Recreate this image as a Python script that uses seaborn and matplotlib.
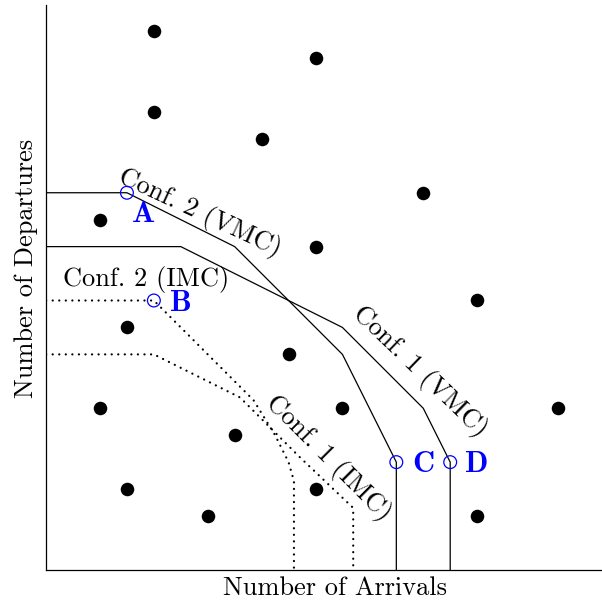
import matplotlib
matplotlib.use("Agg")
import matplotlib.pyplot as plt
import seaborn as sns
import pandas as pd

# ---- data ----
dots_x = [4, 10, 4, 8, 14, 2, 10, 16, 3, 9, 2, 11, 19, 7, 3, 10, 6, 16]
dots_y = [20, 19, 17, 16, 14, 13, 12, 10, 9, 8, 6, 6, 6, 5, 3, 3, 2, 2]

conf2_vmc_x = [0, 3, 7, 11, 13, 13]
conf2_vmc_y = [14, 14, 12, 8, 4, 0]
conf1_vmc_x = [0, 5, 11, 14, 15, 15]
conf1_vmc_y = [12, 12, 9, 6, 4, 0]
conf2_imc_x = [0, 4, 7.7, 8.5, 9.0, 9.2, 9.2]
conf2_imc_y = [10, 10, 6.3, 5.0, 4.0, 3.3, 0]
conf1_imc_x = [0, 4, 7.2, 9.4, 11.4, 11.4]
conf1_imc_y = [8, 8, 6.4, 4.2, 2.3, 0]

pt_labels = ["A", "B", "C", "D"]
pt_x = [3, 4, 13, 15]
pt_y = [14, 10, 4, 4]

sns.set_theme(style="white")
plt.rcParams["font.family"] = ["cmr10", "DejaVu Serif"]
plt.rcParams["axes.unicode_minus"] = False
plt.rcParams["text.color"] = "black"

fig = plt.figure(figsize=(6.02, 6.05), dpi=100)
ax = fig.add_axes([46.1 / 602, (605 - 569.9) / 605, (602 - 46.1) / 602, (569.9 - 5) / 605])

def path(x, y, **kw):
    df = pd.DataFrame({"x": x, "y": y})
    sns.lineplot(data=df, x="x", y="y", sort=False, estimator=None, ax=ax, **kw)

for xs, ys in [(conf2_vmc_x, conf2_vmc_y), (conf1_vmc_x, conf1_vmc_y)]:
    path(xs, ys, color="black", linewidth=0.9)

for xs, ys in [(conf2_imc_x, conf2_imc_y), (conf1_imc_x, conf1_imc_y)]:
    path(xs, ys, color="black", linewidth=1.6, dashes=False)
for line in ax.lines[2:]:
    line.set_linestyle((0, (0.05, 2.9)))
    line.set_dash_capstyle("round")

sns.scatterplot(x=dots_x, y=dots_y, color="black", s=95, linewidth=0, ax=ax, zorder=3)
sns.scatterplot(x=pt_x, y=pt_y, s=85, facecolor="none", edgecolor="#0000ff",
                linewidth=0.9, ax=ax, zorder=4)

bold = dict(color="#0000ff", fontsize=22, fontfamily=["cmb10", "DejaVu Serif"],
            ha="center", va="center")
ax.text(3.6, 13.2, pt_labels[0], **bold)
ax.text(5.0, 9.88, pt_labels[1], **bold)
ax.text(14.0, 3.93, pt_labels[2], **bold)
ax.text(16.0, 3.93, pt_labels[3], **bold)

fs = 19
lab = dict(fontsize=fs, color="black", ha="center", va="center", rotation_mode="anchor")
ax.text(3.71, 10.55, "Conf. 2 (IMC)", fontsize=fs, color="black", ha="center", va="baseline")
ax.text(5.71, 13.25, "Conf. 2 (VMC)", rotation=-25, **lab)
ax.text(13.88, 7.35, "Conf. 1 (VMC)", rotation=-44, **lab)
ax.text(10.46, 4.15, "Conf. 1 (IMC)", rotation=-45, **lab)

ax.set_xlim(0, (602 - 46.1) / 26.94)
ax.set_ylim(0, (569.9 - 5) / 26.94)
ax.set_xticks([])
ax.set_yticks([])
ax.set_xlabel("")
ax.set_ylabel("")
for s in ["top", "right"]:
    ax.spines[s].set_visible(False)
for s in ["left", "bottom"]:
    ax.spines[s].set_color("black")
    ax.spines[s].set_linewidth(0.9)

fig.text(335 / 602, 1 - 595 / 605, "Number of Arrivals", fontsize=fs, color="black",
         ha="center", va="baseline")
fig.text(33 / 602, 1 - 268 / 605, "Number of Departures", fontsize=fs, color="black",
         ha="center", va="baseline", rotation=90, rotation_mode="anchor")

fig.savefig("out.png", dpi=100)
